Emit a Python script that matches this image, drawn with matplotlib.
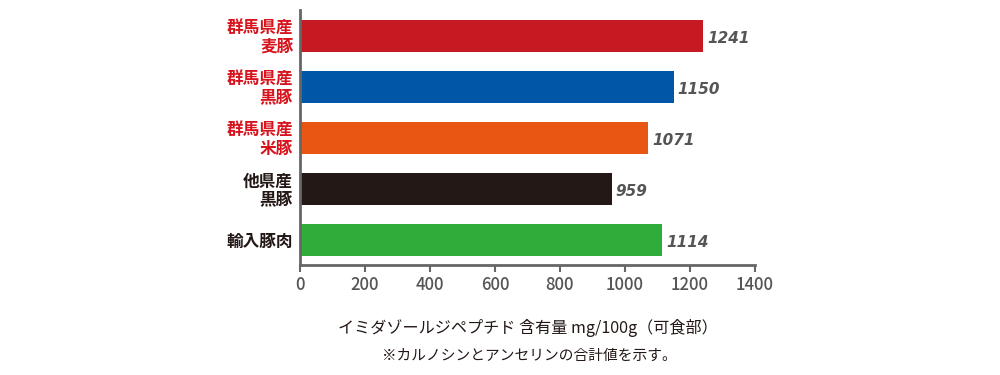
import matplotlib
matplotlib.use("Agg")
import matplotlib.pyplot as plt

plt.rcParams['font.family'] = ['Noto Sans CJK JP', 'DejaVu Sans']

labels = ["群馬県産\n麦豚", "群馬県産\n黒豚", "群馬県産\n米豚", "他県産\n黒豚", "輸入豚肉"]
values = [1241, 1150, 1071, 959, 1114]
colors = ["#c51a22", "#0057a8", "#e95513", "#231815", "#2fac3a"]
label_colors = ["#d7141d", "#d7141d", "#d7141d", "#231815", "#231815"]
xticks = [0, 200, 400, 600, 800, 1000, 1200, 1400]

fig = plt.figure(figsize=(10, 3.75), dpi=100)
ax = fig.add_axes([0.3, 0.293, 0.455, 0.68])

pos = list(range(len(values)))
ax.barh(pos, values, height=0.63, color=colors)
ax.set_ylim(4.5, -0.5)
ax.set_xlim(0, 1400)

for y, v in zip(pos, values):
    ax.text(v + 12, y + 0.05, str(v), va="center", ha="left", fontsize=11,
            fontstyle="italic", fontweight="bold", color="#555555",
            family=["DejaVu Sans"])

ax.set_yticks(pos)
ax.set_yticklabels(labels, fontsize=12, fontweight="bold", linespacing=1.0)
for t, c in zip(ax.get_yticklabels(), label_colors):
    t.set_color(c)
ax.tick_params(axis="y", length=0, pad=5)

ax.set_xticks(xticks)
ax.set_xticklabels([str(x) for x in xticks], fontsize=12, fontweight="medium", color="#555555")
ax.tick_params(axis="x", length=5, width=1.5, color="#666666", pad=3)

for s in ["top", "right"]:
    ax.spines[s].set_visible(False)
for s in ["left", "bottom"]:
    ax.spines[s].set_color("#666666")
    ax.spines[s].set_linewidth(2)

fig.text(0.528, 0.125, "イミダゾールジペプチド 含有量 mg/100g（可食部）", ha="center", va="center",
         fontsize=11.6, color="#231815")
fig.text(0.529, 0.05, "※カルノシンとアンセリンの合計値を示す。", ha="center", va="center",
         fontsize=10.6, color="#231815")

fig.savefig("out.png", dpi=100)
